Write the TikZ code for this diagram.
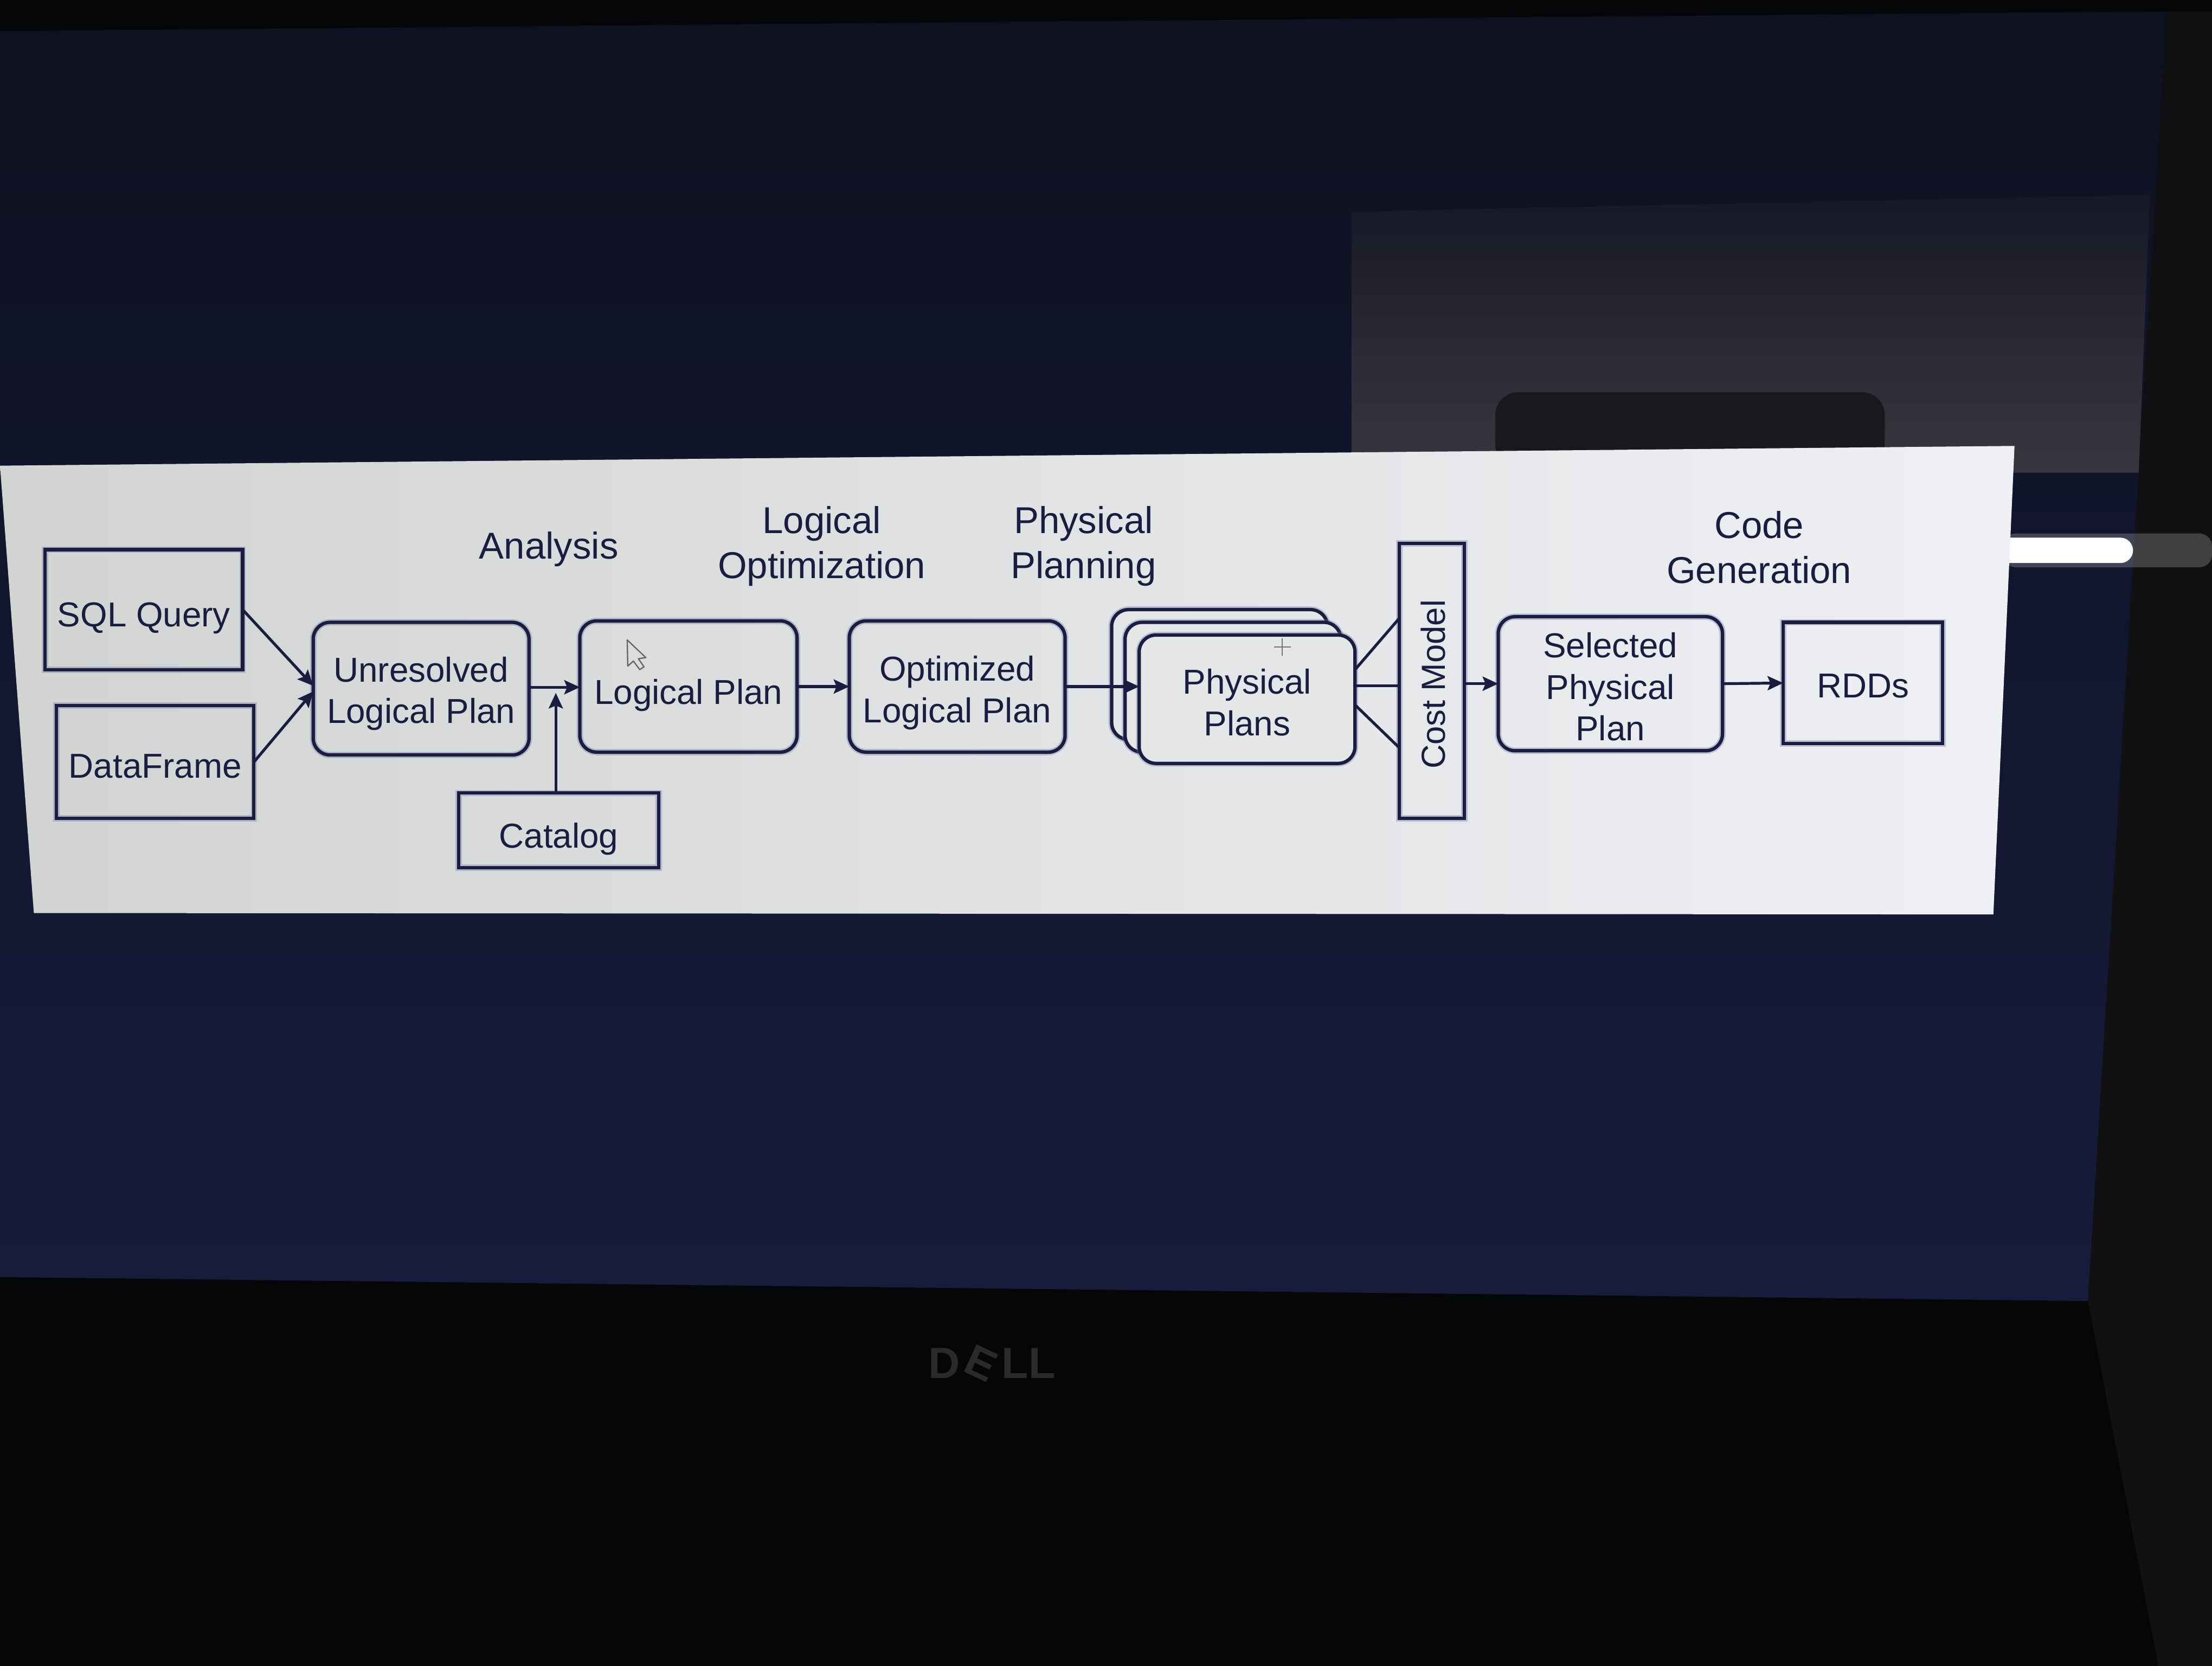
\documentclass[tikz,border=0pt]{standalone}
\usepackage{fontspec}
\setmainfont{Liberation Sans}
\usepackage{graphicx}
\usetikzlibrary{arrows.meta,calc}
\definecolor{ink}{HTML}{1A1C40}
\definecolor{halo}{HTML}{6870A8}
\definecolor{boxfill}{HTML}{E4E6E7}
\definecolor{scrtop}{HTML}{0E1120}
\definecolor{scrbot}{HTML}{171C3C}
\definecolor{panleft}{HTML}{D2D4D2}
\definecolor{panright}{HTML}{EEF0F4}
\definecolor{refl}{HTML}{3A363F}
\definecolor{bezel}{HTML}{050608}
\definecolor{sidebezel}{HTML}{111114}
\definecolor{logo}{HTML}{2A2A2B}
\newcommand{\dn}[2]{\raisebox{-#1}[\height][\depth]{#2}}
\newcommand{\lines}[2]{\raisebox{-#1}[\height][\depth]{\begin{tabular}{@{}c@{}}#2\end{tabular}}}
\begin{document}
\begin{tikzpicture}[x=1pt,y=-1pt,
  every node/.style={inner sep=0pt,outer sep=0pt},
  btxt/.style={font=\fontsize{24.5}{29.5}\selectfont,text=ink,align=center},
  ltxt/.style={font=\fontsize{26.5}{32}\selectfont,text=ink,align=center},
  sqbox/.style={draw=ink,line width=2.4pt,preaction={draw=halo,line width=4.5pt,opacity=0.35},btxt},
  rbox/.style={sqbox,rounded corners=12pt},
  arr/.style={draw=ink,line width=2pt,-{Stealth[length=11pt,width=10pt,inset=2pt]}},
  ln/.style={draw=ink,line width=2pt}
]
\useasboundingbox (0,0) rectangle (1568,1180.6);
% surroundings
\fill[bezel] (0,0) rectangle (1568,1180.6);
\fill[sidebezel] (1536,8) -- (1568,8) -- (1568,1180.6) -- (1530,1180.6) -- (1480,922) -- cycle;
\shade[top color=scrtop,bottom color=scrbot] (0,22) -- (1536,8) -- (1480,922) -- (0,905) -- cycle;
\shade[top color=scrtop!80!refl,bottom color=refl] (958,150) -- (1524,138) -- (1516,335) -- (958,335) -- cycle;
\fill[refl!45!black,rounded corners=16pt] (1060,278) rectangle (1336,332);
\fill[white,opacity=0.2,rounded corners=9pt] (1420,378) rectangle (1568,402);
\fill[white,rounded corners=9pt] (1380,381) rectangle (1512,399);
\node[font=\bfseries\fontsize{31}{31}\selectfont,text=logo] (dell) at (703,966) {D\kern1pt\rotatebox[origin=c]{-25}{E}\kern1pt LL};
% panel
\shade[left color=panleft,right color=panright] (0,330) -- (1428,316) -- (1413,648) -- (24,647) -- cycle;
% labels
\node[ltxt] (analysis) at (389,389) {Analysis};
\node[ltxt] (logopt) at (582.5,387) {Logical\\Optimization};
\node[ltxt] (physplan) at (768,387) {Physical\\Planning};
\node[ltxt] (codegen) at (1247,388) {Code\\Generation};
% boxes
\node[sqbox,minimum width=140pt,minimum height=85pt] (sql) at (102,432) {\dn{6pt}{SQL Query}};
\node[sqbox,minimum width=140pt,minimum height=80pt] (df) at (110,540) {\dn{3pt}{DataFrame}};
\node[rbox,minimum width=153pt,minimum height=94pt] (unres) at (298.5,488) {\lines{4pt}{Unresolved\\Logical Plan}};
\node[rbox,minimum width=154pt,minimum height=93pt] (lp) at (488,486.5) {\dn{6pt}{Logical Plan}};
\node[rbox,minimum width=153pt,minimum height=93pt] (opt) at (678.5,486.5) {\lines{5pt}{Optimized\\Logical Plan}};
\node[rbox,fill=boxfill,minimum width=153pt,minimum height=92pt] (ppback) at (864.5,478) {};
\node[rbox,fill=boxfill,minimum width=153pt,minimum height=92pt] (ppmid) at (874,487) {};
\node[rbox,fill=boxfill,minimum width=153pt,minimum height=91pt] (ppf) at (884,495.5) {\lines{5pt}{Physical\\Plans}};
\node[sqbox,minimum width=46pt,minimum height=195pt] (cost) at (1015,482.5) {};
\node[btxt,rotate=90,font=\fontsize{23.7}{28}\selectfont] (costtxt) at (1016,485) {Cost Model};
\node[rbox,minimum width=159pt,minimum height=95pt] (sel) at (1141.5,484.5) {\lines{5pt}{Selected\\Physical\\Plan}};
\node[sqbox,minimum width=113pt,minimum height=86pt] (rdd) at (1320.5,484) {\dn{2pt}{RDDs}};
\node[sqbox,minimum width=142pt,minimum height=53pt] (catalog) at (396,588.5) {\dn{6pt}{Catalog}};
% connectors
\draw[arr] (sql.east) -- ($(unres.west)+(0,-2)$);
\draw[arr] (df.east) -- ($(unres.west)+(0,2)$);
\draw[arr] ($(unres.east)+(0,-1)$) -- ($(lp.west)+(0,0.5)$);
\coordinate (cattip) at (394,491);
\draw[arr] (catalog.north -| cattip) -- (cattip);
\draw[arr] (lp.east) -- (opt.west);
\draw[arr] (opt.east) -- (opt.east -| ppf.west);
\coordinate (pa1) at (961,474); \coordinate (pb1) at (992,438);
\coordinate (pa2) at (961,486); \coordinate (pb2) at (992,486);
\coordinate (pa3) at (961,500); \coordinate (pb3) at (992,530);
\draw[ln] (pa1) -- (pb1);
\draw[ln] (pa2) -- (pb2);
\draw[ln] (pa3) -- (pb3);
\draw[arr] (sel.west -| cost.east) -- (sel.west);
\draw[arr] (sel.east) -- (rdd.west);
% cursor and crosshair
\draw[black!60,line width=0.9pt,line join=round] (444.6,453.5) -- (445,472) -- (449,468.5) -- (453.5,474.5) -- (456.5,472.5) -- (452.5,466.8) -- (457.8,466) -- cycle;
\draw[black!55,line width=0.7pt] (903,458.5) -- (915,458.5) (909,452.5) -- (909,464.5);
\end{tikzpicture}
\end{document}
